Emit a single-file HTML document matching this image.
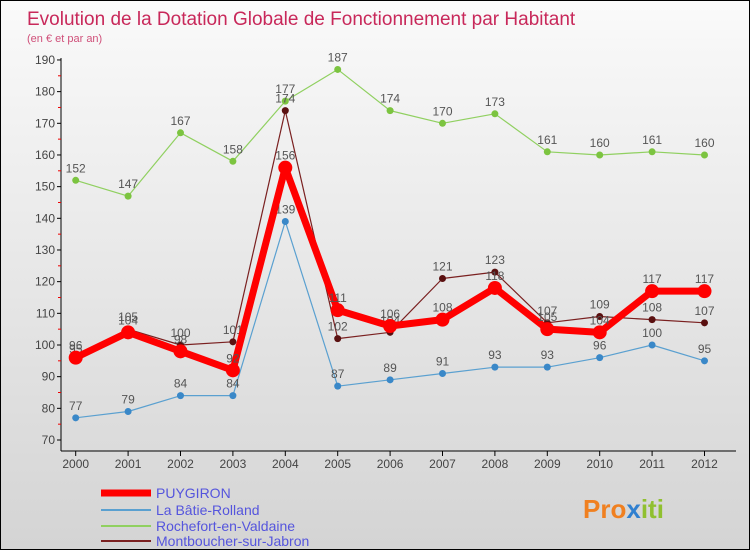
<!DOCTYPE html>
<html><head><meta charset="utf-8"><style>
body{margin:0;width:750px;height:550px;overflow:hidden;font-family:"Liberation Sans",sans-serif}
#c{position:absolute;left:0;top:0;width:748px;height:548px;border:1px solid #000;background:linear-gradient(#fafafa,#d4d4d4)}
</style></head><body>
<div id="c">
<svg id="s" width="748" height="548" xmlns="http://www.w3.org/2000/svg">
<text x="26" y="24" font-size="19" fill="#c8285a">Evolution de la Dotation Globale de Fonctionnement par Habitant</text>
<text x="26" y="41" font-size="11" fill="#d0507a">(en € et par an)</text>
<g id="axes"></g><g id="series"></g>
<g font-size="14">
<line x1="100" y1="492" x2="150" y2="492" stroke="#f00" stroke-width="7"/><text x="155" y="497" fill="#5555dd">PUYGIRON</text>
<line x1="100" y1="509" x2="150" y2="509" stroke="#5aa0d0" stroke-width="2"/><text x="155" y="514" fill="#5555dd">La Bâtie-Rolland</text>
<line x1="100" y1="525" x2="150" y2="525" stroke="#90d060" stroke-width="2"/><text x="155" y="530" fill="#5555dd">Rochefort-en-Valdaine</text>
<line x1="100" y1="540" x2="150" y2="540" stroke="#7a2020" stroke-width="2"/><text x="155" y="545" fill="#5555dd">Montboucher-sur-Jabron</text>
</g>
<text x="582" y="517" font-size="26" font-weight="bold"><tspan fill="#f08020">Pro</tspan><tspan fill="#3080d0">x</tspan><tspan fill="#90c030">iti</tspan></text>
</svg></div>
<script>
const years=[2000,2001,2002,2003,2004,2005,2006,2007,2008,2009,2010,2011,2012];
const puygiron=[96,104,98,92,156,111,106,108,118,105,104,117,117];
const batie=[77,79,84,84,139,87,89,91,93,93,96,100,95];
const rochefort=[152,147,167,158,177,187,174,170,173,161,160,161,160];
const montboucher=[95,105,100,101,174,102,104,121,123,107,109,108,107];
const yTicks=[70,80,90,100,110,120,130,140,150,160,170,180,190];
const NS="http://www.w3.org/2000/svg";
const X=i=>74.7+i*52.4, Y=v=>439-(v-70)*3.167;
function mk(t,a,p){const e=document.createElementNS(NS,t);for(const k in a)e.setAttribute(k,a[k]);p.appendChild(e);return e;}
const ax=document.getElementById('axes');
let l=mk('line',{x1:60,y1:57,x2:60,y2:450,stroke:'#000'},ax);

l=mk('line',{x1:60,y1:450,x2:735,y2:450,stroke:'#000'},ax);

yTicks.forEach(v=>{mk('line',{x1:56,y1:Y(v),x2:60,y2:Y(v),stroke:'#000'},ax);
 if(v<190)mk('line',{x1:57,y1:Y(v+5),x2:60,y2:Y(v+5),stroke:'#e00'},ax);
 const t=mk('text',{x:54,y:Y(v)+4,'font-size':12,fill:'#444','text-anchor':'end'},ax);t.textContent=v;
 });
years.forEach((y,i)=>{mk('line',{x1:X(i),y1:450,x2:X(i),y2:455,stroke:'#000'},ax);
 const t=mk('text',{x:X(i),y:467,'font-size':12,fill:'#444','text-anchor':'middle'},ax);t.textContent=y;
 });
const sg=document.getElementById('series');
function draw(d,col,w,r,name,dot){const g=mk('g',{},sg);
 mk('polyline',{points:d.map((v,i)=>X(i)+','+Y(v)).join(' '),fill:'none',stroke:col,'stroke-width':w,'stroke-linejoin':'round'},g);
 d.forEach((v,i)=>{const c=mk('circle',{cx:X(i),cy:Y(v),r:r,fill:dot||col},g);
  const t=mk('text',{x:X(i),y:Y(v)-8,'font-size':12,fill:'#555','text-anchor':'middle'},g);t.textContent=v;});}
draw(rochefort,'#90d060',1.2,3.5,'series-rochefort','#7cc440');
draw(batie,'#5aa0d0',1.2,3.5,'series-batie','#3a88c8');
draw(montboucher,'#7a2020',1.2,3.5,'series-montboucher','#5a1010');
draw(puygiron,'#f00',7,7,'series-puygiron');
</script></body></html>
